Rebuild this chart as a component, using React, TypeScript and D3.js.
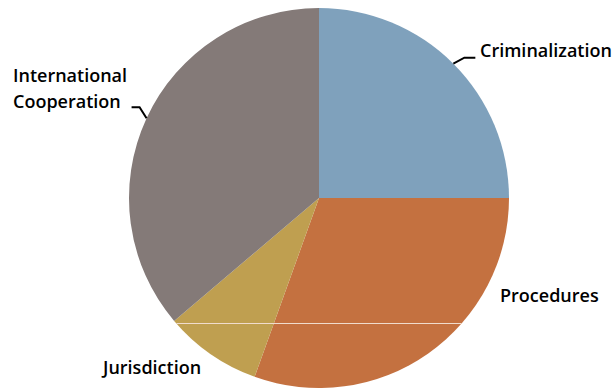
import React from "react";
import * as d3 from "d3";

const categories = ["Criminalization", "Procedures", "Jurisdiction", "International Cooperation"];
const values = [25, 30.5, 8.3, 36.2];
const colors = ["#7fa1bc", "#c47140", "#bf9f50", "#847a78"];

const W = 614;
const H = 392;
const cx = 319;
const cy = 198;
const R = 190;

export default function App() {
  const pie = d3.pie<number>().sort(null).value((d) => d);
  const arcs = pie(values);
  const arc = d3.arc<d3.PieArcDatum<number>>().innerRadius(0).outerRadius(R);

  const edge = (a: d3.PieArcDatum<number>) => {
    const m = (a.startAngle + a.endAngle) / 2;
    return [Math.sin(m) * R, -Math.cos(m) * R];
  };

  const font = "'Open Sans', sans-serif";
  const fs = 18;

  const e0 = edge(arcs[0]);
  const e3 = edge(arcs[3]);

  return (
    <svg width={W} height={H} style={{ position: "absolute", left: 0, top: 0, background: "#fff" }}>
      <defs>
        <clipPath id="pieclip">
          <circle cx={cx} cy={cy} r={R} />
        </clipPath>
      </defs>
      <g transform={`translate(${cx},${cy})`}>
        {arcs.map((a, i) => (
          <path key={categories[i]} d={arc(a) || ""} fill={colors[i]} />
        ))}
      </g>
      <line x1={0} x2={W} y1={323.5} y2={323.5} stroke="#f0dccd" strokeWidth={1} clipPath="url(#pieclip)" />
      {/* leader lines */}
      <polyline
        points={`${cx + e0[0]},${cy + e0[1]} ${cx + e0[0] + 11},${cy + e0[1] - 6} ${cx + e0[0] + 22},${cy + e0[1] - 6}`}
        fill="none"
        stroke="#000"
        strokeWidth={2}
      />
      <polyline
        points={`${cx + e3[0]},${cy + e3[1]} ${cx + e3[0] - 7},${cy + e3[1] - 11} ${cx + e3[0] - 15},${cy + e3[1] - 11}`}
        fill="none"
        stroke="#000"
        strokeWidth={2}
      />
      <g fontFamily={font} fontSize={fs} fontWeight={600} fill="#000">
        <text x={480} y={57}>{categories[0]}</text>
        <text x={500} y={302}>{categories[1]}</text>
        <text x={103} y={374}>{categories[2]}</text>
        <text x={13} y={82}>International</text>
        <text x={13} y={108}>Cooperation</text>
      </g>
    </svg>
  );
}
